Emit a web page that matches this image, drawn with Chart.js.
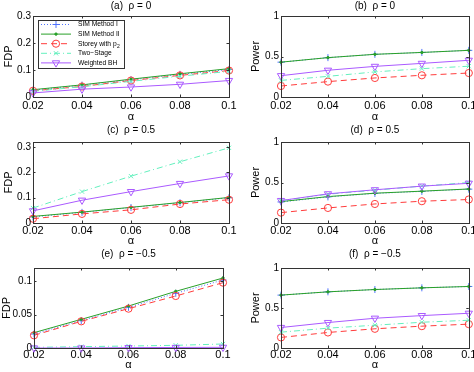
<!DOCTYPE html>
<html>
<head>
<meta charset="UTF-8"/>
<title>FDP and Power versus alpha</title>
<script src="https://cdn.jsdelivr.net/npm/chart.js@4.4.0/dist/chart.umd.min.js"></script>
<style>
 html, body { margin: 0; padding: 0; background: #fff; }
 #wrap { position: relative; width: 474px; height: 372px; overflow: hidden; }
 #wrap canvas { position: absolute; }
</style>
</head>
<body>
<div id="wrap">
  <canvas id="pa" width="237" height="124" style="left:0;top:0"></canvas>
  <canvas id="pb" width="237" height="124" style="left:237px;top:0"></canvas>
  <canvas id="pc" width="237" height="124" style="left:0;top:124px"></canvas>
  <canvas id="pd" width="237" height="124" style="left:237px;top:124px"></canvas>
  <canvas id="pe" width="237" height="124" style="left:0;top:248px"></canvas>
  <canvas id="pf" width="237" height="124" style="left:237px;top:248px"></canvas>
</div>
<script>
// x values / ticks
const alpha = [0.02, 0.04, 0.06, 0.08, 0.1];
const seriesNames = ['SIM Method I', 'SIM Method II', 'Storey with p', 'Two\u2212Stage', 'Weighted BH'];

// y tick values
const fdpTicks   = [0, 0.1, 0.2, 0.3];
const fdpTicksE  = [0, 0.05, 0.1];
const powerTicks = [0, 0.5, 1];

// (a) FDP, rho = 0
const fdp0_sim1   = [0.025, 0.044, 0.064, 0.084, 0.102];
const fdp0_sim2   = [0.027, 0.045, 0.066, 0.086, 0.105];
const fdp0_storey = [0.023, 0.039, 0.061, 0.080, 0.098];
const fdp0_two    = [0.021, 0.038, 0.058, 0.077, 0.095];
const fdp0_wbh    = [0.015, 0.029, 0.037, 0.047, 0.061];

// (b) Power, rho = 0
const pow0_sim1   = [0.430, 0.486, 0.527, 0.550, 0.576];
const pow0_sim2   = [0.430, 0.486, 0.527, 0.550, 0.576];
const pow0_storey = [0.136, 0.190, 0.235, 0.268, 0.296];
const pow0_two    = [0.205, 0.255, 0.310, 0.350, 0.380];
const pow0_wbh    = [0.263, 0.330, 0.378, 0.415, 0.453];

// (c) FDP, rho = 0.5
const fdp5_sim1   = [0.024, 0.042, 0.061, 0.080, 0.100];
const fdp5_sim2   = [0.026, 0.043, 0.062, 0.081, 0.101];
const fdp5_storey = [0.017, 0.036, 0.052, 0.075, 0.092];
const fdp5_two    = [0.059, 0.124, 0.185, 0.242, 0.297];
const fdp5_wbh    = [0.048, 0.090, 0.124, 0.156, 0.186];

// (d) Power, rho = 0.5
const pow5_sim1   = [0.260, 0.322, 0.365, 0.390, 0.418];
const pow5_sim2   = [0.264, 0.326, 0.368, 0.393, 0.420];
const pow5_storey = [0.128, 0.186, 0.235, 0.269, 0.290];
const pow5_two    = [0.275, 0.355, 0.405, 0.455, 0.500];
const pow5_wbh    = [0.277, 0.360, 0.410, 0.455, 0.490];

// (e) FDP, rho = -0.5
const fdpm5_sim1   = [0.021, 0.041, 0.061, 0.082, 0.102];
const fdpm5_sim2   = [0.023, 0.043, 0.063, 0.085, 0.105];
const fdpm5_storey = [0.019, 0.040, 0.059, 0.078, 0.098];
const fdpm5_two    = [0.001, 0.002, 0.003, 0.004, 0.006];
const fdpm5_wbh    = [0.000, 0.000, 0.0005, 0.0008, 0.001];

// (f) Power, rho = -0.5
const powm5_sim1   = [0.661, 0.702, 0.731, 0.752, 0.769];
const powm5_sim2   = [0.661, 0.702, 0.731, 0.752, 0.769];
const powm5_storey = [0.132, 0.194, 0.240, 0.273, 0.298];
const powm5_two    = [0.198, 0.248, 0.285, 0.322, 0.347];
const powm5_wbh    = [0.256, 0.318, 0.372, 0.405, 0.434];

const FONT = 'Liberation Sans, Arial, Helvetica, sans-serif';

const styles = [
  { borderColor: 'rgb(80,115,255)', borderDash: [1, 2], pointStyle: 'cross', pointRadius: 3.5, order: 5 },
  { borderColor: 'rgb(40,160,40)', borderDash: [], pointStyle: 'circle', pointRadius: 1.2, fill: true, order: 4 },
  { borderColor: 'rgb(255,60,60)', borderDash: [6, 4], pointStyle: 'circle', pointRadius: 3.6, order: 3 },
  { borderColor: 'rgb(100,240,190)', borderDash: [6, 3, 1, 3], pointStyle: 'crossRot', pointRadius: 3, order: 2 },
  { borderColor: 'rgb(170,90,255)', borderDash: [], pointStyle: 'triangle', pointRadius: 4.2, rotation: 180, order: 1 }
];

function fmt(v) { return String(+(+v).toFixed(4)); }

// box around the plot, inward ticks on all four sides, y tick labels
const framePlugin = {
  id: 'frame',
  afterDraw(chart, args, opts) {
    const { ctx, chartArea: a, scales } = chart;
    const yvals = opts.yticks || [];
    ctx.save();
    ctx.strokeStyle = '#333';
    ctx.lineWidth = 1;
    ctx.setLineDash([]);
    ctx.strokeRect(Math.round(a.left) + 0.5, Math.round(a.top) + 0.5,
                   Math.round(a.right - a.left), Math.round(a.bottom - a.top));
    const tl = 2.5;
    ctx.beginPath();
    alpha.forEach(v => {
      const x = Math.round(scales.x.getPixelForValue(v)) + 0.5;
      ctx.moveTo(x, a.bottom); ctx.lineTo(x, a.bottom - tl);
      ctx.moveTo(x, a.top); ctx.lineTo(x, a.top + tl);
    });
    yvals.forEach(v => {
      const y = Math.round(scales.y.getPixelForValue(v)) + 0.5;
      ctx.moveTo(a.left, y); ctx.lineTo(a.left + tl, y);
      ctx.moveTo(a.right, y); ctx.lineTo(a.right - tl, y);
    });
    ctx.stroke();
    ctx.fillStyle = '#000';
    ctx.font = '10px ' + FONT;
    ctx.textAlign = 'right';
    ctx.textBaseline = 'middle';
    yvals.forEach(v => {
      ctx.fillText(fmt(v), a.left - 2, scales.y.getPixelForValue(v));
    });
    ctx.restore();
  }
};

// panel caption above the plot
const captionPlugin = {
  id: 'caption',
  afterDraw(chart, args, opts) {
    if (!opts.text) return;
    const { ctx, chartArea: a } = chart;
    ctx.save();
    ctx.font = '10px ' + FONT;
    ctx.fillStyle = '#000';
    ctx.textAlign = 'center';
    ctx.textBaseline = 'middle';
    ctx.fillText(opts.text, (a.left + a.right) / 2, opts.y);
    ctx.restore();
  }
};

// MATLAB-like legend box drawn from the datasets
const legendBoxPlugin = {
  id: 'legendBox',
  afterDraw(chart, args, opts) {
    if (!opts.show) return;
    const { ctx } = chart;
    const [bx, by, bw, bh] = opts.box;
    ctx.save();
    ctx.fillStyle = '#fff';
    ctx.fillRect(bx, by, bw, bh);
    ctx.strokeStyle = '#333';
    ctx.lineWidth = 1;
    ctx.strokeRect(bx + 0.5, by + 0.5, bw, bh);
    chart.data.datasets.forEach((ds, i) => {
      const y = by + 4.5 + i * 9.6;
      ctx.strokeStyle = ds.borderColor;
      ctx.lineWidth = 1;
      ctx.setLineDash(ds.borderDash || []);
      ctx.beginPath();
      ctx.moveTo(bx + 3, y); ctx.lineTo(bx + 33, y);
      ctx.stroke();
      ctx.setLineDash([]);
      ctx.fillStyle = ds.pointBackgroundColor || 'rgba(0,0,0,0)';
      Chart.helpers.drawPoint(ctx, {
        pointStyle: ds.pointStyle, rotation: ds.pointRotation || 0,
        radius: ds.pointRadius, borderWidth: 1
      }, bx + 18, y);
      ctx.fillStyle = '#000';
      ctx.font = '6.7px ' + FONT;
      ctx.textAlign = 'left';
      ctx.textBaseline = 'middle';
      const tx = bx + 40;
      ctx.fillText(ds.label, tx, y);
      if (i === 2) {
        const w = ctx.measureText(ds.label).width;
        ctx.font = '5px ' + FONT;
        ctx.fillText('2', tx + w + 0.3, y + 2.5);
      }
    });
    ctx.restore();
  }
};

function makePanel(id, cfg) {
  const W = 237, H = 124;
  const [L, T, R, B] = cfg.area;
  const datasets = cfg.series.map((s, i) => {
    const st = styles[i];
    return {
      label: seriesNames[i],
      data: alpha.map((x, j) => ({ x: x, y: s[j] })),
      borderColor: st.borderColor,
      borderWidth: 1,
      borderDash: st.borderDash,
      pointStyle: st.pointStyle,
      pointRadius: st.pointRadius,
      pointRotation: st.rotation || 0,
      pointBorderColor: st.borderColor,
      pointBorderWidth: 1,
      pointBackgroundColor: st.fill ? st.borderColor : 'rgba(0,0,0,0)',
      tension: 0,
      fill: false,
      clip: false,
      order: st.order
    };
  });
  return new Chart(document.getElementById(id), {
    type: 'line',
    data: { datasets: datasets },
    options: {
      responsive: false,
      animation: false,
      events: [],
      layout: { padding: { left: cfg.padLeft, top: T, right: W - R, bottom: 0 } },
      plugins: {
        legend: { display: false },
        tooltip: { enabled: false },
        frame: { yticks: cfg.yticks },
        caption: { text: cfg.title, y: cfg.titleY },
        legendBox: { show: !!cfg.legend, box: cfg.legend }
      },
      scales: {
        x: {
          type: 'linear', min: alpha[0], max: alpha[alpha.length - 1],
          grid: { display: false, drawTicks: false },
          border: { display: false },
          ticks: {
            autoSkip: false, maxRotation: 0, padding: cfg.xPad,
            callback: fmt, color: '#000', font: { family: FONT, size: 11 }
          },
          title: { display: true, text: '\u03b1', color: '#000',
                   font: { family: FONT, size: 11 }, padding: { top: 0, bottom: 0 } },
          afterBuildTicks(s) { s.ticks = alpha.map(v => ({ value: v })); },
          afterFit(s) { s.height = H - B; s.paddingLeft = 0; s.paddingRight = 0; }
        },
        y: {
          type: 'linear', min: 0, max: cfg.ymax,
          grid: { display: false, drawTicks: false },
          border: { display: false },
          ticks: { display: false },
          title: { display: true, text: cfg.ylabel, color: '#000',
                   font: { family: FONT, size: 11 }, padding: { top: cfg.yTitlePad, bottom: 0 } },
          afterFit(s) { s.width = L - cfg.padLeft; s.paddingTop = 0; s.paddingBottom = 0; }
        }
      }
    },
    plugins: [framePlugin, captionPlugin, legendBoxPlugin]
  });
}

makePanel('pa', {
  area: [33, 16, 229, 97], padLeft: 0, yTitlePad: 2, xPad: 2, ymax: 0.3, yticks: fdpTicks, ylabel: 'FDP',
  title: '(a)  \u03c1 = 0', titleY: 6, legend: [38, 20, 86, 48],
  series: [fdp0_sim1, fdp0_sim2, fdp0_storey, fdp0_two, fdp0_wbh]
});
makePanel('pb', {
  area: [44, 16, 233, 97], padLeft: 10, yTitlePad: 2, xPad: 2, ymax: 1, yticks: powerTicks, ylabel: 'Power',
  title: '(b)  \u03c1 = 0', titleY: 6,
  series: [pow0_sim1, pow0_sim2, pow0_storey, pow0_two, pow0_wbh]
});
makePanel('pc', {
  area: [33, 18, 229, 99], padLeft: 0, yTitlePad: 2, xPad: 1, ymax: 0.32, yticks: fdpTicks, ylabel: 'FDP',
  title: '(c)  \u03c1 = 0.5', titleY: 6,
  series: [fdp5_sim1, fdp5_sim2, fdp5_storey, fdp5_two, fdp5_wbh]
});
makePanel('pd', {
  area: [44, 18, 233, 99], padLeft: 10, yTitlePad: 2, xPad: 1, ymax: 1, yticks: powerTicks, ylabel: 'Power',
  title: '(d)  \u03c1 = 0.5', titleY: 6,
  series: [pow5_sim1, pow5_sim2, pow5_storey, pow5_two, pow5_wbh]
});
makePanel('pe', {
  area: [34, 20, 223, 100], padLeft: 0, yTitlePad: 0, xPad: 0, ymax: 0.12, yticks: fdpTicksE, ylabel: 'FDP',
  title: '(e)  \u03c1 = \u22120.5', titleY: 6.5,
  series: [fdpm5_sim1, fdpm5_sim2, fdpm5_storey, fdpm5_two, fdpm5_wbh]
});
makePanel('pf', {
  area: [44, 20, 232, 100], padLeft: 10, yTitlePad: 2, xPad: 0, ymax: 1, yticks: powerTicks, ylabel: 'Power',
  title: '(f)  \u03c1 = \u22120.5', titleY: 6.5,
  series: [powm5_sim1, powm5_sim2, powm5_storey, powm5_two, powm5_wbh]
});
</script>
</body>
</html>
